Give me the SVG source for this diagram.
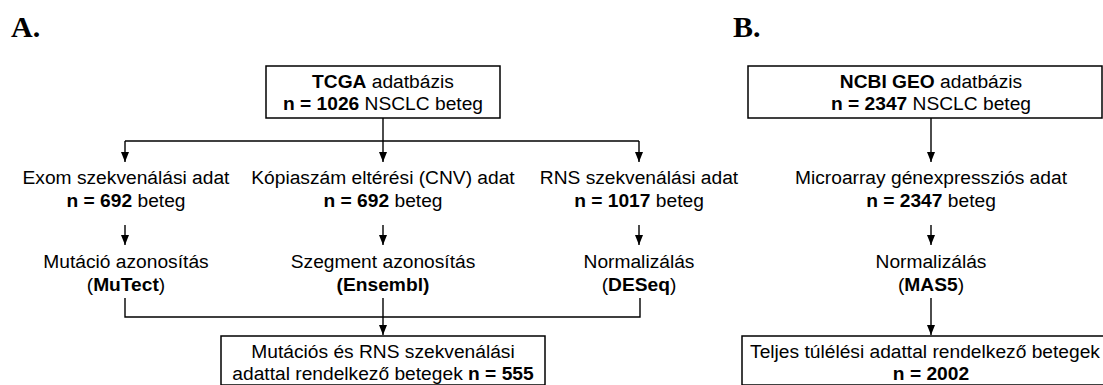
<svg xmlns="http://www.w3.org/2000/svg" width="1103" height="385" viewBox="0 0 1103 385">
<style>
.t{font-family:"Liberation Sans",Arial,sans-serif;font-size:19.2px;fill:#000;text-anchor:middle}
.b{font-weight:bold}
.h{font-family:"Liberation Serif","Times New Roman",serif;font-size:30px;font-weight:bold;fill:#000}
.box{fill:#fff;stroke:#000;stroke-width:1.5}
.c{fill:none;stroke:#000;stroke-width:1.4}
.a{marker-end:url(#ah)}
</style>
<defs>
<marker id="ah" markerUnits="userSpaceOnUse" markerWidth="10" markerHeight="10" viewBox="0 0 10 10" refX="10" refY="5" orient="auto">
<path d="M0,1 L10,5 L0,9 z" fill="#000"/>
</marker>
</defs>
<text class="h" x="11" y="37">A.</text>
<text class="h" x="733" y="37">B.</text>
<g id="connectors">
<path class="c a" d="M383,118 V162"/>
<path class="c" d="M125,141 H639"/>
<path class="c a" d="M125,141 V162"/>
<path class="c a" d="M639,141 V162"/>
<path class="c a" d="M125,225 V245"/>
<path class="c a" d="M383,225 V245"/>
<path class="c a" d="M639,225 V245"/>
<path class="c" d="M125,298 V317 H640 V298"/>
<path class="c a" d="M383,298 V335"/>
<path class="c a" d="M931,118 V162"/>
<path class="c a" d="M931,225 V245"/>
<path class="c a" d="M931,298 V335"/>
</g>
<g id="tcga">
<rect class="box" x="266" y="66" width="234" height="52"/>
<text class="t" x="383" y="88"><tspan class="b">TCGA</tspan> adatbázis</text>
<text class="t" x="383" y="110"><tspan class="b">n = 1026</tspan> NSCLC beteg</text>
</g>
<g id="exom">
<text class="t" x="126" y="184">Exom szekvenálási adat</text>
<text class="t" x="126" y="207"><tspan class="b">n = 692</tspan> beteg</text>
</g>
<g id="cnv">
<text class="t" x="383" y="184">Kópiaszám eltérési (CNV) adat</text>
<text class="t" x="383" y="207"><tspan class="b">n = 692</tspan> beteg</text>
</g>
<g id="rns">
<text class="t" x="639" y="184">RNS szekvenálási adat</text>
<text class="t" x="639" y="207"><tspan class="b">n = 1017</tspan> beteg</text>
</g>
<g id="mutect">
<text class="t" x="126" y="268">Mutáció azonosítás</text>
<text class="t" x="126" y="291">(<tspan class="b">MuTect</tspan>)</text>
</g>
<g id="ensembl">
<text class="t" x="383" y="268">Szegment azonosítás</text>
<text class="t b" x="383" y="291">(Ensembl)</text>
</g>
<g id="deseq">
<text class="t" x="639" y="268">Normalizálás</text>
<text class="t" x="639" y="291">(<tspan class="b">DESeq</tspan>)</text>
</g>
<g id="result-a">
<rect class="box" x="221" y="336" width="324" height="49"/>
<text class="t" x="383" y="358">Mutációs és RNS szekvenálási</text>
<text class="t" x="383" y="380">adattal rendelkező betegek <tspan class="b">n = 555</tspan></text>
</g>
<g id="geo">
<rect class="box" x="748" y="66" width="354" height="52"/>
<text class="t" x="931" y="88"><tspan class="b">NCBI GEO</tspan> adatbázis</text>
<text class="t" x="931" y="110"><tspan class="b">n = 2347</tspan> NSCLC beteg</text>
</g>
<g id="microarray">
<text class="t" x="931" y="184">Microarray génexpressziós adat</text>
<text class="t" x="931" y="207"><tspan class="b">n = 2347</tspan> beteg</text>
</g>
<g id="mas5">
<text class="t" x="931" y="268">Normalizálás</text>
<text class="t" x="931" y="291">(<tspan class="b">MAS5</tspan>)</text>
</g>
<g id="result-b">
<rect class="box" x="742" y="336" width="380" height="49"/>
<text class="t" x="925" y="358">Teljes túlélési adattal rendelkező betegek</text>
<text class="t b" x="931" y="380">n = 2002</text>
</g>
</svg>
